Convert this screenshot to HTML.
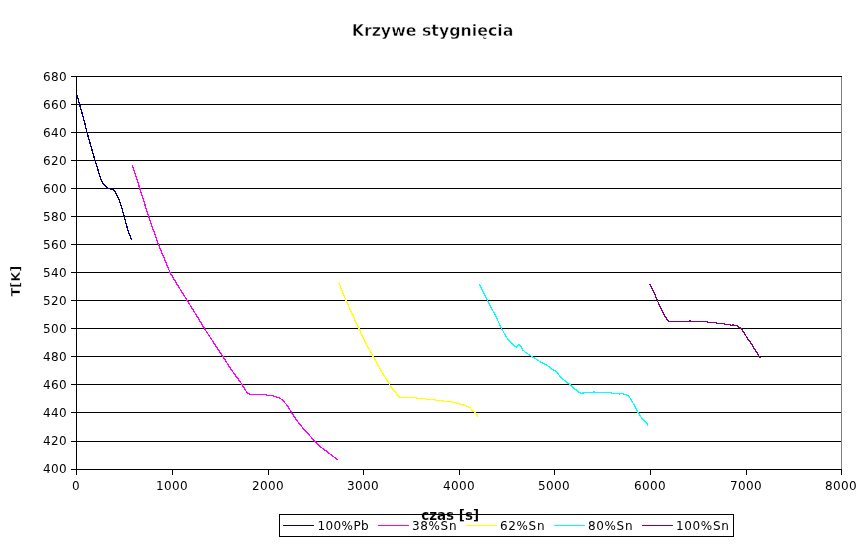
<!DOCTYPE html>
<html><head><meta charset="utf-8"><title>Krzywe stygnięcia</title>
<style>
html,body{margin:0;padding:0;background:#fff;width:866px;height:549px;overflow:hidden}
svg{display:block;will-change:transform}
text{font-family:"DejaVu Sans","Liberation Sans",sans-serif;fill:#000}
</style></head><body>
<svg width="866" height="549" viewBox="0 0 866 549">
<rect width="866" height="549" fill="#fff"/>
<text x="432.5" y="36" text-anchor="middle" font-size="15.8" font-weight="bold" stroke="#fff" stroke-width="0.5">Krzywe stygnięcia</text>
<path d="M71 76.5H842 M71 104.5H842 M71 132.5H842 M71 160.5H842 M71 188.5H842 M71 216.5H842 M71 244.5H842 M71 272.5H842 M71 300.5H842 M71 328.5H842 M71 356.5H842 M71 384.5H842 M71 412.5H842 M71 441.5H842 M71 469.5H842" stroke="#000" stroke-width="1" fill="none" shape-rendering="crispEdges"/>
<path d="M841.5 77V469" stroke="#808080" stroke-width="1" shape-rendering="crispEdges"/>
<path d="M76.5 76V475" stroke="#000" stroke-width="1" shape-rendering="crispEdges"/>
<path d="M76.5 469V475 M172.5 469V475 M268.5 469V475 M363.5 469V475 M459.5 469V475 M554.5 469V475 M650.5 469V475 M746.5 469V475 M841.5 469V475" stroke="#000" stroke-width="1" shape-rendering="crispEdges"/>
<text x="67" y="81" text-anchor="end" font-size="12" letter-spacing="0.4">680</text>
<text x="67" y="109" text-anchor="end" font-size="12" letter-spacing="0.4">660</text>
<text x="67" y="137" text-anchor="end" font-size="12" letter-spacing="0.4">640</text>
<text x="67" y="165" text-anchor="end" font-size="12" letter-spacing="0.4">620</text>
<text x="67" y="193" text-anchor="end" font-size="12" letter-spacing="0.4">600</text>
<text x="67" y="221" text-anchor="end" font-size="12" letter-spacing="0.4">580</text>
<text x="67" y="249" text-anchor="end" font-size="12" letter-spacing="0.4">560</text>
<text x="67" y="277" text-anchor="end" font-size="12" letter-spacing="0.4">540</text>
<text x="67" y="305" text-anchor="end" font-size="12" letter-spacing="0.4">520</text>
<text x="67" y="333" text-anchor="end" font-size="12" letter-spacing="0.4">500</text>
<text x="67" y="361" text-anchor="end" font-size="12" letter-spacing="0.4">480</text>
<text x="67" y="389" text-anchor="end" font-size="12" letter-spacing="0.4">460</text>
<text x="67" y="417" text-anchor="end" font-size="12" letter-spacing="0.4">440</text>
<text x="67" y="445" text-anchor="end" font-size="12" letter-spacing="0.4">420</text>
<text x="67" y="473" text-anchor="end" font-size="12" letter-spacing="0.4">400</text>
<text x="76" y="490" text-anchor="middle" font-size="12" letter-spacing="0.4">0</text>
<text x="172" y="490" text-anchor="middle" font-size="12" letter-spacing="0.4">1000</text>
<text x="268" y="490" text-anchor="middle" font-size="12" letter-spacing="0.4">2000</text>
<text x="363" y="490" text-anchor="middle" font-size="12" letter-spacing="0.4">3000</text>
<text x="459" y="490" text-anchor="middle" font-size="12" letter-spacing="0.4">4000</text>
<text x="554" y="490" text-anchor="middle" font-size="12" letter-spacing="0.4">5000</text>
<text x="650" y="490" text-anchor="middle" font-size="12" letter-spacing="0.4">6000</text>
<text x="746" y="490" text-anchor="middle" font-size="12" letter-spacing="0.4">7000</text>
<text x="841" y="490" text-anchor="middle" font-size="12" letter-spacing="0.4">8000</text>
<text transform="translate(20 281.2) rotate(-90)" text-anchor="middle" font-size="13" font-weight="bold" stroke="#fff" stroke-width="0.4">T[K]</text>
<polyline points="77,95 79.5,104 82,113 85,124 86.9,132 94.9,160 97.3,167.3 99.1,173.9 100.9,179.3 103.1,183.4 105.7,186.3 107.9,188.1 110.8,189.2 112.8,189.5 114.6,190.6 115.9,193.3 117.2,195.4 118.6,199 120,202.4 122.3,209.6 124.1,216.4 126.4,225 128.7,232.3 131.4,239.6" fill="none" stroke="#000080" stroke-width="1.3" stroke-linejoin="round" shape-rendering="crispEdges"/>
<polyline points="132.4,165.5 139.8,188.4 148.5,216.2 158.4,244.4 170,272.4 176.9,284.1 187.1,300.3 196.1,314.7 204.4,328.5 214.6,344 222.6,356.2 231.3,369.6 235.7,375.7 239.4,380.8 241.9,384.3 244.5,388.5 247.4,393.2 250.3,394.3 266.3,394.3 266.7,395.4 272.1,395.4 275.8,396.8 280.2,398.3 283.1,400.9 287.4,405.6 290.4,410.7 291.5,412.4 297,420.8 303.6,429 310.1,436.1 315.1,441.3 320,446.5 325.4,450.4 330.9,454.7 337.5,459.6" fill="none" stroke="#ff00ff" stroke-width="1.3" stroke-linejoin="round" shape-rendering="crispEdges"/>
<polyline points="338.9,283.1 345.9,300.2 358.8,328.3 364.8,341.3 373,356.1 381.2,370.8 389.4,384 392.3,388.7 395.9,392.7 399.6,397.5 416.3,397.5 416.6,398.5 425.8,398.5 426.1,399.5 435.6,399.5 435.9,400.5 443.4,400.5 443.6,401.5 449,401.5 449.2,402.5 449.6,401.5 452.1,401.5 452.3,402.5 456.5,402.5 456.7,403.5 459.4,403.5 459.6,404.5 463.1,404.5 463.3,405.5 466,405.5 466.2,406.5 468.2,406.5 468.4,407.5 470,407.7 471.4,409.5 472.9,411 474.7,412.5 476.5,414.5 478,416.3" fill="none" stroke="#ffff00" stroke-width="1.3" stroke-linejoin="round" shape-rendering="crispEdges"/>
<polyline points="479.5,284 487.5,300.5 494.8,314.4 501.6,328.3 504.1,333.2 506.8,337.8 510,341.8 513.7,345.5 516.6,347.3 519.1,344.3 520.5,345.9 522.8,350 526.4,353.2 530.1,355.1 531.4,356.4 536.4,359.2 541,362.3 547.4,365.5 551.9,369.2 555.3,370.7 559.4,375.5 563.1,379.2 567.5,382.8 570,384.5 573.3,387.9 577,390.5 580.6,393.3 583.5,393 584.2,392.5 593,392.5 593.4,391.5 594.6,391.5 595,392.5 611,392.5 611.5,393.5 619,393.5 619.3,394.5 619.7,393.5 623.5,393.5 624,394.5 626.5,394.5 627,395.3 628.8,396.3 631.4,400.1 634.6,405.8 638.1,412.5 641.6,417.9 646,422.4 648.2,425.6" fill="none" stroke="#00ffff" stroke-width="1.3" stroke-linejoin="round" shape-rendering="crispEdges"/>
<polyline points="649.6,283.7 653.1,290.3 657.3,300.5 660.8,307.8 664,314.3 666.8,319.3 669,321.5 689.6,321.5 689.9,320.5 690.3,320.5 690.6,321.5 707.6,321.5 708,322.4 716.3,322.4 716.5,323.5 724.4,323.5 724.8,324.5 730.6,324.5 731,325.5 732.2,325.5 732.5,324.5 733.4,324.5 733.7,325.5 736.8,325.5 737.2,326.3 739.6,327.5 741.4,328.5 742.2,329.6 743.1,331.4 745.1,334.4 747.1,337.8 749.5,341.2 751.9,344.6 754.6,349.3 757.3,353.3 759.3,356.7 760.3,358" fill="none" stroke="#800080" stroke-width="1.3" stroke-linejoin="round" shape-rendering="crispEdges"/>
<rect x="279.5" y="514.5" width="454" height="22" fill="#fff"/>
<text x="450.2" y="520" text-anchor="middle" font-size="13.5" font-weight="bold" stroke="#fff" stroke-width="0.15">czas [s]</text>
<rect x="279.5" y="514.5" width="454" height="22" fill="none" stroke="#000" stroke-width="1" shape-rendering="crispEdges"/>
<path d="M283 525.5H314" stroke="#000080" stroke-width="1" shape-rendering="crispEdges"/>
<text x="317.5" y="530" font-size="12" letter-spacing="0.4">100%Pb</text>
<path d="M378 525.5H409" stroke="#ff00ff" stroke-width="1" shape-rendering="crispEdges"/>
<text x="412" y="530" font-size="12" letter-spacing="0.65">38%Sn</text>
<path d="M466 525.5H497" stroke="#ffff00" stroke-width="1" shape-rendering="crispEdges"/>
<text x="500" y="530" font-size="12" letter-spacing="0.65">62%Sn</text>
<path d="M554 525.5H585" stroke="#00ffff" stroke-width="1" shape-rendering="crispEdges"/>
<text x="588" y="530" font-size="12" letter-spacing="0.65">80%Sn</text>
<path d="M642 525.5H673" stroke="#800080" stroke-width="1" shape-rendering="crispEdges"/>
<text x="676" y="530" font-size="12" letter-spacing="0.65">100%Sn</text>
</svg>
</body></html>
